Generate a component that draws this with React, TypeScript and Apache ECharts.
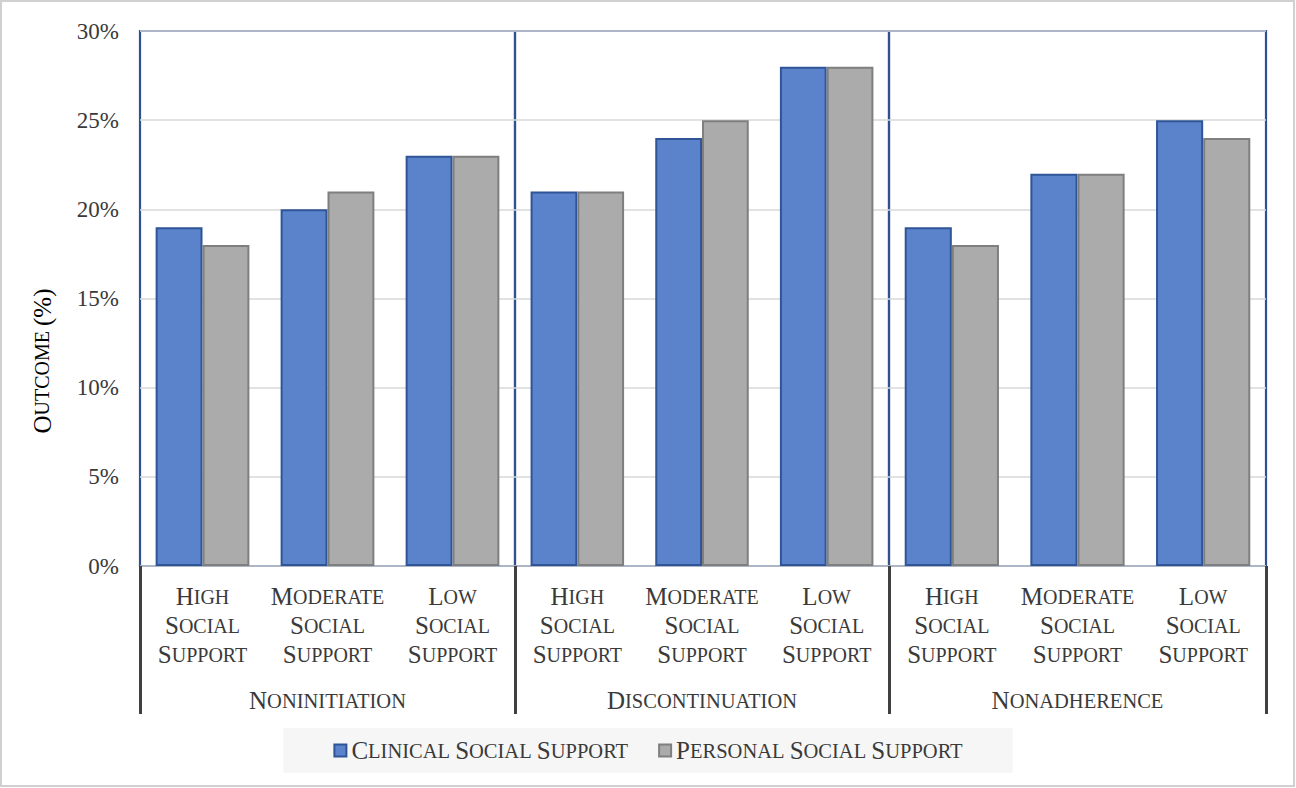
import React, { useEffect, useRef } from "react";
import * as echarts from "echarts";

const groups = ["Noninitiation", "Discontinuation", "Nonadherence"];
const levels = ["High Social Support", "Moderate Social Support", "Low Social Support"];
const seriesNames = ["Clinical Social Support", "Personal Social Support"];
const clinicalValues = [
  [19, 20, 23],
  [21, 24, 28],
  [19, 22, 25],
];
const personalValues = [
  [18, 21, 23],
  [21, 25, 28],
  [18, 22, 24],
];
const yAxisTitle = "Outcome (%)";
const yMin = 0;
const yMax = 30;
const yStep = 5;

const FONT = "'Liberation Serif', 'Times New Roman', serif";
const TEXT = "#3A3A3A";

function sc(text: string, sep: string): string {
  const parts = text.split(" ").map((w) => {
    if (!/[a-z]/.test(w)) return `{b|${w}}`;
    return `{b|${w[0].toUpperCase()}}{s|${w.slice(1).toUpperCase()}}`;
  });
  return parts.join(sep === "\n" ? "\n" : "{s| }");
}

function rich(big: number, small: number, lh: number) {
  return {
    b: { fontFamily: FONT, fontSize: big, color: TEXT, lineHeight: lh },
    s: { fontFamily: FONT, fontSize: small, color: TEXT, lineHeight: lh },
  };
}

export default function App() {
  const ref = useRef<HTMLDivElement>(null);

  useEffect(() => {
    document.body.style.margin = "0";
    if (!ref.current) return;
    const chart = echarts.init(ref.current, undefined, { renderer: "svg" });

    const gridLefts = [140, 515, 889];
    const gridWidths = [375, 374, 377];

    const grids = gridLefts.map((l, i) => ({
      left: l,
      width: gridWidths[i],
      top: 31,
      height: 535,
      show: true,
      borderColor: "#2F528F",
      borderWidth: 2.2,
      backgroundColor: "transparent",
    }));

    const catAxes = groups.map((_, i) => ({
      type: "category",
      gridIndex: i,
      data: levels,
      position: "bottom",
      axisLine: { show: false },
      axisTick: { show: false },
      axisLabel: {
        interval: 0,
        margin: 16,
        formatter: (v: string) => sc(v, "\n"),
        rich: rich(25, 20, 29),
      },
    }));

    const groupAxes = groups.map((g, i) => ({
      type: "category",
      gridIndex: i,
      data: [g],
      position: "bottom",
      axisLine: { show: false },
      axisTick: {
        show: true,
        interval: 0,
        length: 148,
        lineStyle: { color: "#404040", width: 3 },
      },
      axisLabel: {
        interval: 0,
        margin: 120,
        formatter: (v: string) => sc(v, " "),
        rich: rich(25, 20.5, 29),
      },
    }));

    const yAxes = groups.map((_, i) => ({
      type: "value",
      gridIndex: i,
      min: yMin,
      max: yMax,
      interval: yStep,
      axisLine: { show: false },
      axisTick: { show: false },
      axisLabel: {
        show: i === 0,
        margin: 21,
        formatter: "{value}%",
        fontFamily: FONT,
        fontSize: 23,
        color: TEXT,
      },
      splitLine: { show: true, lineStyle: { color: "#D9D9D9", width: 1.5 } },
    }));

    const series: any[] = [];
    groups.forEach((_, i) => {
      series.push({
        type: "bar",
        name: seriesNames[0],
        xAxisIndex: i,
        yAxisIndex: i,
        data: clinicalValues[i],
        barGap: "0%",
        barCategoryGap: "25%",
        itemStyle: { color: "#5A83CB", borderColor: "#2F5597", borderWidth: 2 },
      });
      series.push({
        type: "bar",
        name: seriesNames[1],
        xAxisIndex: i,
        yAxisIndex: i,
        data: personalValues[i],
        barGap: "0%",
        barCategoryGap: "25%",
        itemStyle: { color: "#ABABAB", borderColor: "#7F7F7F", borderWidth: 2 },
      });
    });

    chart.setOption({
      animation: false,
      backgroundColor: "#FFFFFF",
      grid: grids,
      xAxis: [...catAxes, ...groupAxes],
      yAxis: yAxes,
      series,
      legend: {
        data: seriesNames,
        left: "center",
        top: 728,
        backgroundColor: "#F6F6F6",
        padding: [10, 50],
        itemGap: 30,
        itemWidth: 12,
        itemHeight: 12,
        icon: "rect",
        formatter: (n: string) => sc(n, " "),
        textStyle: { rich: rich(25, 20.5, 24), padding: [0, 0, 0, 0] },
      },
      graphic: [
        {
          type: "rect",
          shape: { x: 1, y: 1, width: 1293, height: 785 },
          style: { fill: "none", stroke: "#D0D0D0", lineWidth: 2 },
          silent: true,
        },
        {
          type: "text",
          x: 42,
          y: 361,
          rotation: Math.PI / 2,
          style: {
            text: sc(yAxisTitle, " "),
            align: "center",
            verticalAlign: "middle",
            rich: rich(25, 20, 24),
          },
        },
      ],
    });

    return () => chart.dispose();
  }, []);

  return <div ref={ref} style={{ width: 1296, height: 788 }} />;
}
